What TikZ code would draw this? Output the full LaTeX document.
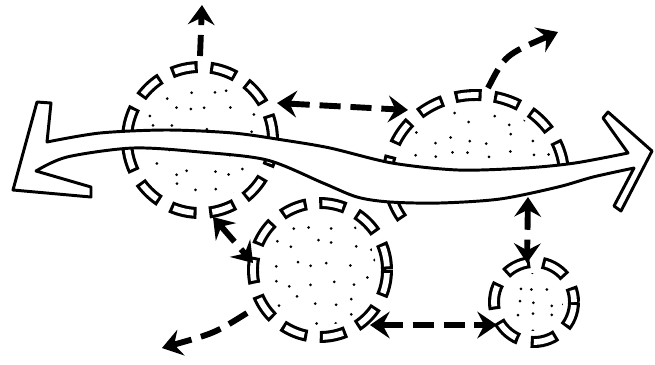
\documentclass[tikz,border=0pt]{standalone}
\usetikzlibrary{arrows.meta}
\tikzset{
  ring/.style={line width=8.5pt,dash pattern=on 19pt off 9pt},
  ringhole/.style={white,line width=4.1pt,dash pattern=on 14.6pt off 13.4pt,dash phase=25.8pt},
  flow/.style={line width=4.2pt,dash pattern=on 15pt off 7pt},
}
\begin{document}
\begin{tikzpicture}[x=0.025cm,y=-0.025cm,>={Stealth[length=14pt,width=19pt,inset=5pt]},line join=round]
\useasboundingbox (0,0) rectangle (655,364);
\pgfmathsetseed{12}
% centres of the four groups
\coordinate (A) at (200,140);
\coordinate (B) at (476,175);
\coordinate (C) at (320,270);
\coordinate (D) at (534,302);
% stipple
\begin{scope}
  \clip (A) circle (62);
  \foreach \i in {0,...,7} \foreach \j in {0,...,7}
    \fill ({134+\i*19+6*rand},{74+\j*19+6*rand}) circle (1.5);
\end{scope}
\begin{scope}
  \clip (385,60) rectangle (570,185);
  \clip (B) ellipse (78 and 70);
  \foreach \i in {0,...,9} \foreach \j in {0,...,5}
    \fill ({396+\i*19+6*rand},{100+\j*19+6*rand}) circle (1.5);
\end{scope}
\begin{scope}
  \clip (C) circle (56);
  \foreach \i in {0,...,7} \foreach \j in {0,...,7}
    \fill ({256+\i*19+6*rand},{206+\j*19+6*rand}) circle (1.5);
\end{scope}
\begin{scope}
  \clip (D) circle (29);
  \foreach \i in {0,...,4} \foreach \j in {0,...,4}
    \fill ({504+\i*15+4*rand},{272+\j*15+4*rand}) circle (1.5);
\end{scope}
% dashed rims
\draw[ring] (A) circle (73);
\draw[ringhole] (A) circle (73);
\draw[ring] ([shift={(147:88 and 80)}]B) arc[start angle=147,end angle=366,x radius=88,y radius=80];
\draw[ringhole] ([shift={(147:88 and 80)}]B) arc[start angle=147,end angle=366,x radius=88,y radius=80];
\draw[ring] (C) circle (67);
\draw[ringhole] (C) circle (67);
\draw[ring] (D) circle (40);
\draw[ringhole] (D) circle (40);
% the long two-way band
\draw[line width=2.1pt,fill=white]
  plot[smooth] coordinates {(47,142) (100,133) (167,130) (233,133) (283,140) (330,148) (392,163) (458,170) (525,168) (575,163) (628,153)}
  -- (603,118) -- (608,112) -- (652,151) -- (621,211) -- (614,206) -- (634,168)
  -- plot[smooth] coordinates {(634,168) (593,177) (558,187) (500,199) (440,203) (390,202) (357,197) (323,183) (267,160) (200,152) (133,148) (67,157) (36,171)}
  -- (91,187) -- (91,197) -- (13,190) -- (37,102) -- (51,103) -- cycle;
% arrow ends
\coordinate (A-up) at (200,56);
\coordinate (A-tip) at (202,5);
\coordinate (A-right) at (277,103);
\coordinate (B-left) at (408,110);
\coordinate (B-up) at (488,88);
\coordinate (B-tip) at (558,32);
\coordinate (A-low) at (213,217);
\coordinate (C-top) at (253,263);
\coordinate (C-low) at (247,313);
\coordinate (C-tip) at (162,348);
\coordinate (C-right) at (370,325);
\coordinate (D-left) at (497,325);
\coordinate (band) at (528,197);
\coordinate (D-top) at (527,263);
% arrows
\draw[flow,->] (A-up) -- (A-tip);
\draw[flow,<->] (A-right) -- (B-left);
\draw[flow,->] (B-up) .. controls (505,55) .. (B-tip);
\draw[flow,<->] (A-low) -- (C-top);
\draw[flow,->] (C-low) .. controls (215,333) .. (C-tip);
\draw[flow,<->] (C-right) -- (D-left);
\draw[flow,<->] (band) -- (D-top);
\end{tikzpicture}
\end{document}
